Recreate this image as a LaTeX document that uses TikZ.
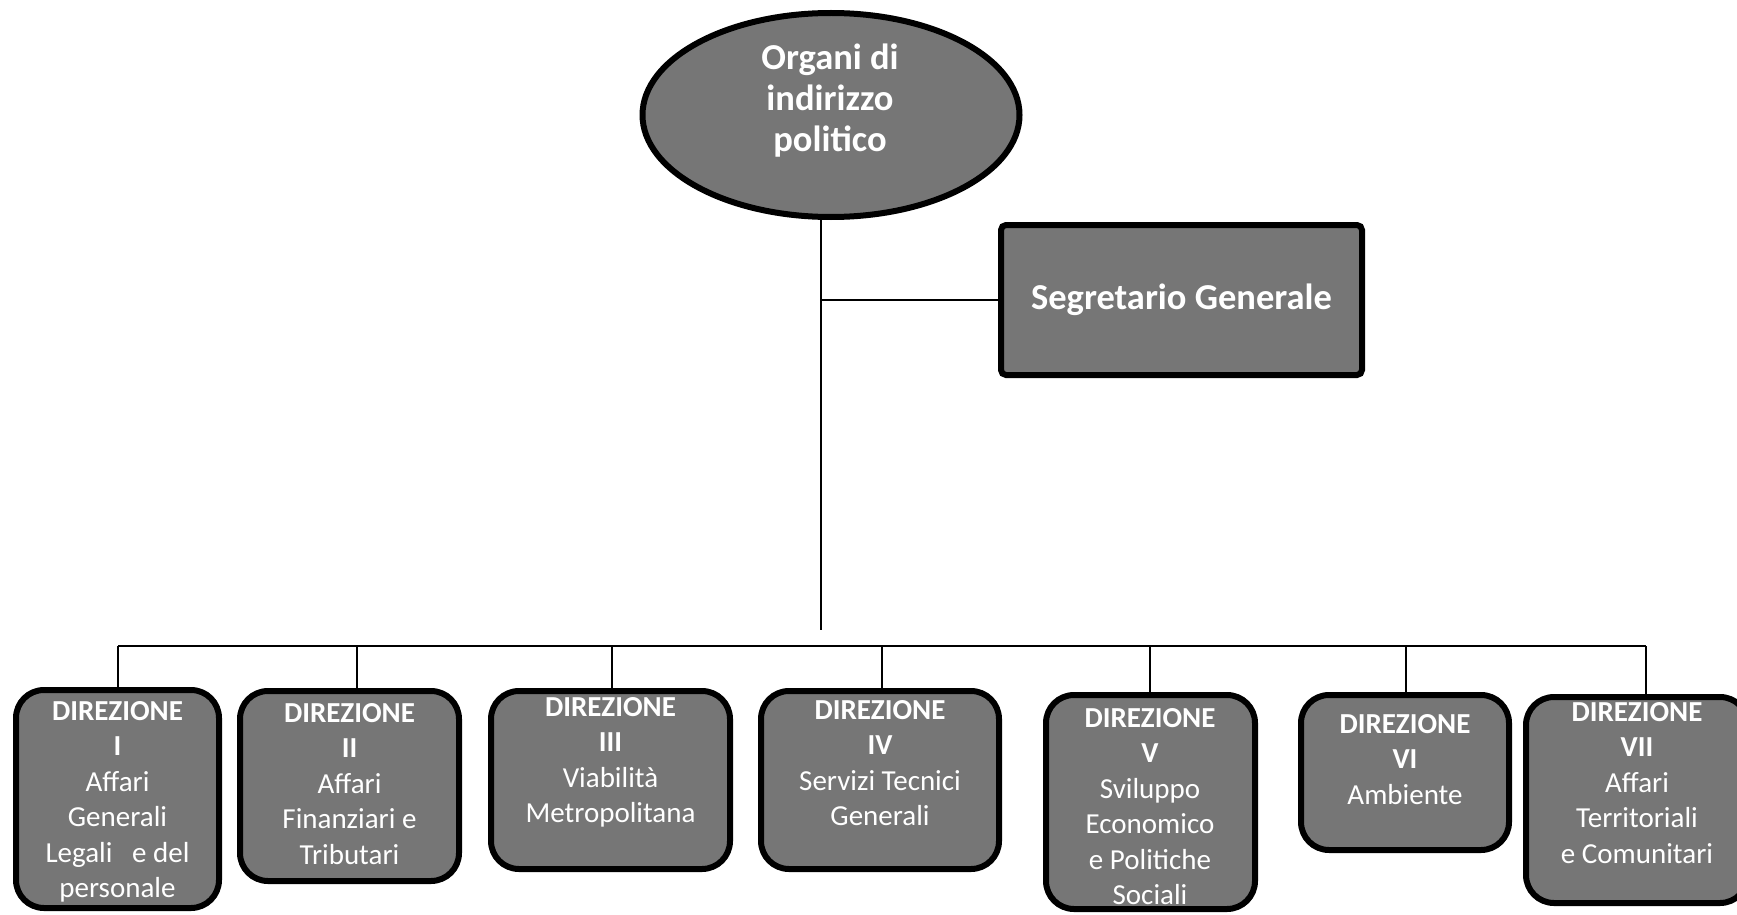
\documentclass[tikz,border=0pt]{standalone}
\usepackage{fontspec}
\setmainfont{Carlito}
\usetikzlibrary{shapes.geometric}
\definecolor{boxgray}{RGB}{118,118,118}
\tikzset{
  unitfill/.style={fill=boxgray, draw=black, line width=6pt},
  dirbox/.style={unitfill, rounded corners=28pt, inner sep=0pt},
  dirtext/.style={anchor=north, align=center, text=white, inner sep=0pt,
                  font=\fontsize{29}{35.5}\selectfont},
  link/.style={draw=black, line width=2pt},
}
% directorate box from its outer edges: name, left, right, top, bottom
\newcommand\dirbox[5]{%
  \node[dirbox, minimum width={#3-#2-6}, minimum height={#5-#4-6}]
    (#1) at ({(#2+#3)/2},{(#4+#5)/2}) {};}
\begin{document}
\begin{tikzpicture}[x=1pt,y=-1pt]
  \fill[white] (0,0) rectangle (1737,915);
  \useasboundingbox (0,0) rectangle (1737,915);

  % top level
  \node[unitfill, ellipse, minimum width=377, minimum height=204, inner sep=0pt]
    (org) at (831,115) {};
  \node[anchor=north, align=center, text=white, inner sep=0pt,
        font=\fontsize{36.5}{41}\selectfont\bfseries] (orgtxt) at (830,44)
    {Organi di\\indirizzo\\politico};

  \node[unitfill, rounded corners=5pt, minimum width=361, minimum height=150,
        inner sep=0pt, text=white, font=\fontsize{36.5}{41}\selectfont\bfseries]
    (seg) at (1181.5,300) {Segretario Generale};

  % directorates
  \dirbox{d1}{13}{222}{687}{911}
  \dirbox{d2}{237}{462}{688}{884}
  \dirbox{d3}{488}{733}{688}{872}
  \dirbox{d4}{758}{1002}{688}{872}
  \dirbox{d5}{1043}{1258}{692}{912}
  \dirbox{d6}{1298}{1512}{692}{853}
  \dirbox{d7}{1523}{1751}{694}{906}

  \node[dirtext] (t1) at (117.5,701)
    {\textbf{DIREZIONE}\\\textbf{I}\\Affari\\Generali\\Legali\ \ \ e del\\personale};
  \node[dirtext] (t2) at (349.5,703)
    {\textbf{DIREZIONE}\\\textbf{II}\\Affari\\Finanziari e\\Tributari};
  \node[dirtext] (t3) at (610.5,697)
    {\textbf{DIREZIONE}\\\textbf{III}\\Viabilità\\Metropolitana};
  \node[dirtext] (t4) at (880,700)
    {\textbf{DIREZIONE}\\\textbf{IV}\\Servizi Tecnici\\Generali};
  \node[dirtext] (t5) at (1150,708)
    {\textbf{DIREZIONE}\\\textbf{V}\\Sviluppo\\Economico\\e Politiche\\Sociali};
  \node[dirtext] (t6) at (1405,714)
    {\textbf{DIREZIONE}\\\textbf{VI}\\Ambiente};
  \node[dirtext] (t7) at (1637,702)
    {\textbf{DIREZIONE}\\\textbf{VII}\\Affari\\Territoriali\\e Comunitari};

  % connectors
  \coordinate (tr) at (821,630);
  \coordinate (k1) at (118,646);
  \coordinate (k2) at (357,646);
  \coordinate (k3) at (612,646);
  \coordinate (k4) at (882,646);
  \coordinate (k5) at (1150,646);
  \coordinate (k6) at (1406,646);
  \coordinate (k7) at (1646,646);

  \draw[link] (org.south -| tr) -- (tr);
  \draw[link] (tr |- seg.west) -- (seg.west);
  \draw[link] (k1) -- (k7);
  \foreach \i in {1,...,7} {
    \draw[link] (k\i) -- (k\i |- d\i.north);
  }
\end{tikzpicture}
\end{document}
